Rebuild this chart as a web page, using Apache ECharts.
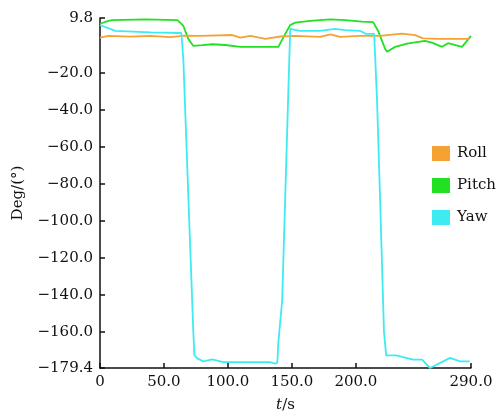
<!DOCTYPE html>
<html><head><meta charset="utf-8">
<script src="https://cdn.jsdelivr.net/npm/echarts@6/dist/echarts.min.js"></script>
<style>html,body{margin:0;padding:0;background:#fff}#c{width:499px;height:414px}</style>
</head><body><div id="c"></div>
<script>
var seriesNames = ['Roll', 'Pitch', 'Yaw'];
var xTicks = [0, 50, 100, 150, 200, 290];
var yTicks = [9.8, -20, -40, -60, -80, -100, -120, -140, -160, -179.4];

var rollT = [0, 6.6, 23.8, 39.4, 55, 66.7, 78.5, 103.4, 109.7, 117.5, 129.3, 141, 152.6, 172, 180, 187.7, 203.5, 219, 236, 246.3, 252.5, 265.8, 289];
var rollV = [-0.8, 0.1, -0.3, 0.1, -0.5, 0.3, 0.1, 0.6, -0.8, 0.1, -1.5, -0.2, 0.1, -0.4, 1.0, -0.4, 0.1, 0.1, 1.3, 0.5, -1.2, -1.5, -1.5];

var pitchT = [0, 6.6, 9.8, 35.5, 60.5, 65.2, 69, 73, 80, 87.8, 98, 109.7, 139.4, 144.8, 148.7, 152.6, 164.3, 180, 191.6, 204.9, 213.5, 217.4, 222.9, 224.4, 230.7, 240, 254, 259.5, 267.4, 272, 283, 290];
var pitchV = [6.7, 8.2, 8.6, 9.1, 8.7, 5.5, -1.5, -5.3, -4.9, -4.4, -4.8, -5.8, -5.8, 1.2, 6.0, 7.3, 8.2, 9.1, 8.6, 7.8, 7.6, 2.8, -6.9, -8.4, -5.8, -4.1, -2.6, -3.5, -5.8, -3.8, -5.8, 0.1];

var yawT = [0, 12, 39.4, 61.3, 63.6, 65.2, 70.6, 73, 73.8, 76.1, 80.8, 87.8, 96.4, 133, 137, 138.6, 139.4, 142.4, 147, 148.7, 156.5, 172, 183.8, 191.6, 203.5, 208, 214.3, 216.6, 219, 222, 223.7, 231.5, 244.7, 251.7, 258, 273.6, 281.4, 289];
var yawV = [6.0, 2.8, 2.0, 1.7, 1.7, -13.4, -115.9, -160.7, -172.6, -174.2, -175.8, -174.8, -176.2, -176.2, -177.1, -176.4, -165.6, -142.9, -35, 3.9, 2.8, 2.8, 3.9, 3.3, 2.8, 1.2, 1.2, -35.4, -89.4, -160.2, -172.6, -172.6, -174.9, -174.9, -179.4, -173.9, -175.8, -175.8];

var colors = ['#F5A235', '#22E022', '#3DEBF0'];

function pairs(t, v) { return t.map(function (x, i) { return [x, v[i]]; }); }
var font = 'DejaVu Serif';

var chart = echarts.init(document.getElementById('c'), null, {renderer: 'canvas'});
chart.setOption({
  animation: false,
  color: colors,
  grid: {left: 100, right: 28, top: 18, bottom: 46, containLabel: false, outerBoundsMode: 'none'},
  legend: {
    orient: 'vertical', left: 427, top: 141,
    itemWidth: 18, itemHeight: 15, itemGap: 17,
    icon: 'rect',
    textStyle: {fontFamily: font, fontSize: 15, color: '#111', padding: [0, 0, 0, 2]},
    data: seriesNames
  },
  xAxis: {
    type: 'value', min: 0, max: 290,
    name: '{i|t}{n|/s}', nameLocation: 'middle', nameGap: 30,
    nameTextStyle: {rich: {i: {fontFamily: font, fontSize: 15, fontStyle: 'italic', color: '#111'}, n: {fontFamily: font, fontSize: 15, color: '#111'}}},
    axisLine: {show: true, onZero: false, lineStyle: {color: '#111', width: 1.5}},
    axisTick: {show: true, inside: true, length: 5, customValues: xTicks, lineStyle: {color: '#111', width: 1.5}},
    axisLabel: {customValues: xTicks, margin: 7, fontFamily: font, fontSize: 15, color: '#111',
      formatter: function (v) { return v === 0 ? '0' : v.toFixed(1); }},
    splitLine: {show: false}
  },
  yAxis: {
    type: 'value', min: -179.4, max: 9.8,
    name: 'Deg/(°)', nameLocation: 'middle', nameGap: 74, nameRotate: 90,
    nameTextStyle: {fontFamily: font, fontSize: 15, color: '#111'},
    axisLine: {show: true, onZero: false, lineStyle: {color: '#111', width: 1.5}},
    axisTick: {show: true, inside: true, length: 5, customValues: yTicks, lineStyle: {color: '#111', width: 1.5}},
    axisLabel: {customValues: yTicks, margin: 7, fontFamily: font, fontSize: 15, color: '#111',
      formatter: function (v) { return v.toFixed(1).replace('-', '\u2212'); }},
    splitLine: {show: false}
  },
  series: [
    {name: seriesNames[0], type: 'line', data: pairs(rollT, rollV), showSymbol: false, lineStyle: {width: 1.8, color: colors[0]}, z: 3},
    {name: seriesNames[1], type: 'line', data: pairs(pitchT, pitchV), showSymbol: false, lineStyle: {width: 1.8, color: colors[1]}, z: 2},
    {name: seriesNames[2], type: 'line', data: pairs(yawT, yawV), showSymbol: false, lineStyle: {width: 1.8, color: colors[2]}, z: 4}
  ]
});
</script></body></html>
